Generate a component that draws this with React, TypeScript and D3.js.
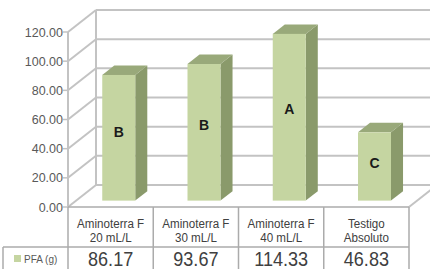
import React, { useEffect, useRef } from 'react';
import * as d3 from 'd3';

const categories = [
  ['Aminoterra F', '20 mL/L'],
  ['Aminoterra F', '30 mL/L'],
  ['Aminoterra F', '40 mL/L'],
  ['Testigo', 'Absoluto'],
];
const values = [86.17, 93.67, 114.33, 46.83];
const letters = ['B', 'B', 'A', 'C'];
const yTicks = [0, 20, 40, 60, 80, 100, 120];
const seriesName = 'PFA (g)';

const App = () => {
  const ref = useRef<SVGSVGElement>(null);

  useEffect(() => {
    const svg = d3.select(ref.current);
    svg.selectAll('*').remove();

    const left = 68;
    const right = 409;
    const depthX = 28;
    const depthY = -22;
    const grid = '#c3c3c3';
    const line = '#ababab';
    const font = 'Arial, "Liberation Sans", sans-serif';

    const x = d3
      .scaleBand<number>()
      .domain(d3.range(values.length))
      .range([left, right]);
    const y = d3.scaleLinear().domain([0, 120]).range([207, 32]);

    // back wall gridlines + side wall diagonals
    yTicks.forEach((t) => {
      svg
        .append('line')
        .attr('x1', left + depthX)
        .attr('x2', 440)
        .attr('y1', y(t) + depthY)
        .attr('y2', y(t) + depthY)
        .attr('stroke', grid)
        .attr('stroke-width', 2);
      svg
        .append('line')
        .attr('x1', left)
        .attr('y1', y(t))
        .attr('x2', left + depthX)
        .attr('y2', y(t) + depthY)
        .attr('stroke', grid)
        .attr('stroke-width', 2);
      svg
        .append('line')
        .attr('x1', left - 5)
        .attr('x2', left)
        .attr('y1', y(t))
        .attr('y2', y(t))
        .attr('stroke', grid)
        .attr('stroke-width', 1.5);
      svg
        .append('text')
        .attr('x', left - 5)
        .attr('y', y(t) + 4.5)
        .attr('text-anchor', 'end')
        .attr('font-family', font)
        .attr('font-size', 12.5)
        .attr('fill', '#595959')
        .text(t.toFixed(2));
    });

    // wall edges
    svg
      .append('line')
      .attr('x1', left + depthX)
      .attr('x2', left + depthX)
      .attr('y1', y(120) + depthY)
      .attr('y2', y(0) + depthY)
      .attr('stroke', grid)
      .attr('stroke-width', 2);
    svg
      .append('line')
      .attr('x1', left)
      .attr('x2', left)
      .attr('y1', y(120))
      .attr('y2', y(0))
      .attr('stroke', grid)
      .attr('stroke-width', 2);
    // floor right edge
    svg
      .append('line')
      .attr('x1', right)
      .attr('y1', y(0))
      .attr('x2', right + depthX)
      .attr('y2', y(0) + depthY)
      .attr('stroke', grid)
      .attr('stroke-width', 2);

    // 3d bars
    const f0 = 0.29;
    const f1 = 0.72;
    const bw = 33;
    values.forEach((v, i) => {
      const cx = x(i)! + x.bandwidth() / 2 + depthX * f0;
      const x0 = cx - bw / 2;
      const x1 = cx + bw / 2;
      const yb = y(0) + depthY * f0;
      const yt = y(v) + depthY * f0;
      const dx = depthX * (f1 - f0);
      const dy = depthY * (f1 - f0);
      const g = svg.append('g');
      g.append('path')
        .attr('d', `M${x1},${yt}L${x1 + dx},${yt + dy}L${x1 + dx},${yb + dy}L${x1},${yb}Z`)
        .attr('fill', '#8a9a6b');
      g.append('path')
        .attr('d', `M${x0},${yt}L${x0 + dx},${yt + dy}L${x1 + dx},${yt + dy}L${x1},${yt}Z`)
        .attr('fill', '#99a97a');
      g.append('rect')
        .attr('x', x0)
        .attr('y', yt)
        .attr('width', bw)
        .attr('height', yb - yt)
        .attr('fill', '#c5d5a1');
      g.append('text')
        .attr('x', cx)
        .attr('y', y(v * 0.55) + depthY * f0 + 5)
        .attr('text-anchor', 'middle')
        .attr('font-family', font)
        .attr('font-weight', 'bold')
        .attr('font-size', 14)
        .attr('fill', '#1a1a1a')
        .text(letters[i]);
    });

    // data table
    const rowTop = y(0);
    const rowMid = 247;
    const rowBot = 272;
    const tbl = svg.append('g').attr('stroke', line).attr('stroke-width', 1.5);
    tbl.append('line').attr('x1', left).attr('x2', right).attr('y1', rowTop).attr('y2', rowTop);
    tbl.append('line').attr('x1', 3).attr('x2', right).attr('y1', rowMid).attr('y2', rowMid);
    tbl.append('line').attr('x1', 3).attr('x2', 3).attr('y1', rowMid).attr('y2', rowBot);
    d3.range(values.length + 1).forEach((i) => {
      const xx = i === values.length ? right : x(i)!;
      tbl.append('line').attr('x1', xx).attr('x2', xx).attr('y1', rowTop).attr('y2', rowBot);
    });

    // condensed text, squeezed horizontally
    categories.forEach((c, i) => {
      const cx = x(i)! + x.bandwidth() / 2;
      c.forEach((s, j) => {
        svg
          .append('text')
          .attr('transform', `translate(${cx},${227.5 + j * 14.5}) scale(0.86,1)`)
          .attr('text-anchor', 'middle')
          .attr('font-family', font)
          .attr('font-size', 13.5)
          .attr('fill', '#404040')
          .text(s);
      });
      svg
        .append('text')
        .attr('transform', `translate(${cx},265.5) scale(0.86,1)`)
        .attr('text-anchor', 'middle')
        .attr('font-family', font)
        .attr('font-size', 21)
        .attr('fill', '#404040')
        .text(values[i].toFixed(2));
    });

    // legend key
    svg
      .append('rect')
      .attr('x', 14)
      .attr('y', 255)
      .attr('width', 7)
      .attr('height', 7)
      .attr('fill', '#c5d5a1');
    svg
      .append('text')
      .attr('x', 24)
      .attr('y', 262.5)
      .attr('font-family', font)
      .attr('font-size', 10)
      .attr('fill', '#595959')
      .text(seriesName);
  }, []);

  return (
    <svg
      ref={ref}
      width={430}
      height={269}
      style={{ position: 'absolute', left: 0, top: 0, background: '#fff' }}
    />
  );
};

export default App;
